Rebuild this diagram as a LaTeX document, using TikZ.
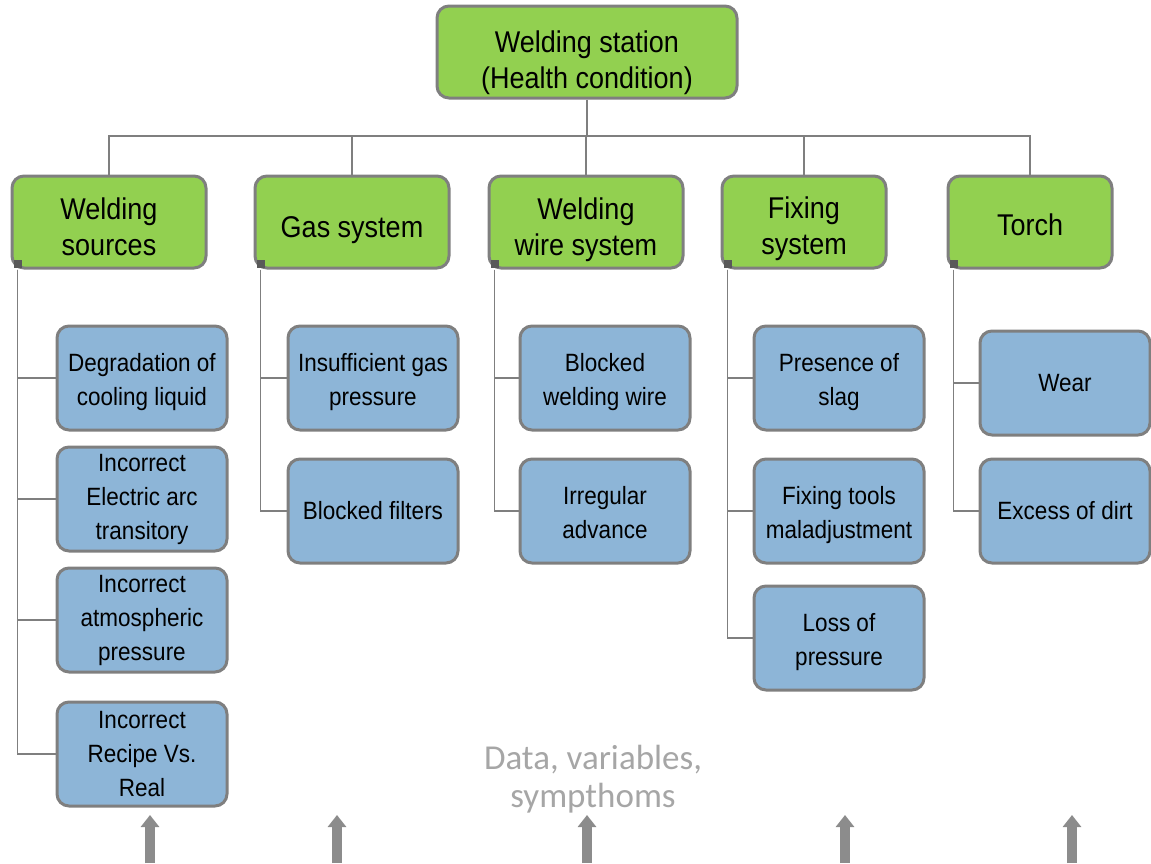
\documentclass[tikz,border=0pt]{standalone}
\usepackage{fontspec}
\setmainfont{Liberation Sans}[FakeStretch=0.9]
\newfontfamily\notefont{Carlito}
\usetikzlibrary{calc,arrows.meta}
\definecolor{boxgreen}{HTML}{92D050}
\definecolor{boxblue}{HTML}{8DB5D7}
\definecolor{boxedge}{HTML}{7F7F7F}
\definecolor{markgray}{HTML}{595959}
\definecolor{notegray}{HTML}{A6A6A6}
\definecolor{arrowgray}{HTML}{8C8C8C}

\begin{document}
\begin{tikzpicture}[x=0.5pt,y=-0.5pt,
    unit/.style={draw=boxedge, line width=1.5pt, rounded corners=6pt,
      fill=boxgreen, align=center, inner sep=0pt, text depth=3.2pt,
      minimum height=46pt, font=\fontsize{15}{18}\selectfont},
    fault/.style={draw=boxedge, line width=1.5pt, rounded corners=6pt,
      fill=boxblue, align=center, inner sep=0pt,
      minimum width=85pt, minimum height=52pt,
      font=\fontsize{12.5}{17}\selectfont},
    pair/.style={text height=30pt, text depth=2.7pt},
    link/.style={draw=boxedge, line width=0.6pt},
    feed/.style={draw=arrowgray, line width=5pt,
      -{Triangle[width=9pt,length=6pt]}}]

  % fix the page to the reference size
  \useasboundingbox (0,0) rectangle (1151,863);

  % Root of the tree
  \node[unit, minimum width=150pt, text height=40pt] (station) at (587,52)
    {Welding station\\(Health condition)};

  % Subsystems
  \node[unit, minimum width=97pt, text height=37pt] (sources) at (109,222) {Welding\\sources};
  \node[unit, minimum width=97pt, text height=19pt] (gas) at (352,222) {Gas system};
  \node[unit, minimum width=97pt, text height=37pt] (wire) at (586,222) {Welding\\wire system};
  \node[unit, minimum width=82pt, text height=36pt] (fixing) at (804,222) {Fixing\\system};
  \node[unit, minimum width=82pt, text height=17pt] (torch) at (1030,222) {Torch};

  % Bus from the root to the subsystems
  \coordinate (bus) at (587,136);
  \draw[link] (station) -- (bus);
  \foreach \sub in {sources,gas,wire,fixing,torch}
    \draw[link] (bus) -| (\sub.north);

  % Faults of the welding sources
  \node[fault, pair] (s1) at (142,378) {Degradation of\\cooling liquid};
  \node[fault] (s2) at (142,499) {Incorrect\\Electric arc\\transitory};
  \node[fault] (s3) at (142,620) {Incorrect\\atmospheric\\pressure};
  \node[fault] (s4) at (142,754) {Incorrect\\Recipe Vs.\\Real};

  % Faults of the gas system
  \node[fault, pair] (g1) at (373,378) {Insufficient gas\\pressure};
  \node[fault] (g2) at (373,511) {Blocked filters};

  % Faults of the wire system
  \node[fault, pair] (w1) at (605,378) {Blocked\\welding wire};
  \node[fault, pair] (w2) at (605,511) {Irregular\\advance};

  % Faults of the fixing system
  \node[fault, pair] (f1) at (839,378) {Presence of\\slag};
  \node[fault, pair] (f2) at (839,511) {Fixing tools\\maladjustment};
  \node[fault, pair] (f3) at (839,638) {Loss of\\pressure};

  % Faults of the torch
  \node[fault] (t1) at (1065,383) {Wear};
  \node[fault] (t2) at (1065,511) {Excess of dirt};

  % Spines from each subsystem down to its faults
  \foreach \sub/\list in {sources/{s1,s2,s3,s4},gas/{g1,g2},wire/{w1,w2},
                          fixing/{f1,f2,f3},torch/{t1,t2}} {
    \fill[markgray] ($(\sub.south west)+(3,-10)$) rectangle ($(\sub.south west)+(11,-2)$);
    \coordinate (\sub-spine) at ($(\sub.south west)+(7,0)$);
    \foreach \f in \list
      \draw[link] (\sub-spine) |- (\f.west);
  }

  % Input data
  \node[font=\notefont\fontsize{17.5}{19}\selectfont, text=notegray, align=center]
    (data) at (593,779) {Data, variables,\\sympthoms};

  \foreach \ax [count=\i] in {150,337,587,845,1072} {
    \coordinate (in\i) at (\ax,863);
    \coordinate (up\i) at (\ax,815);
    \draw[feed] (in\i) -- (up\i);
  }

\end{tikzpicture}
\end{document}
